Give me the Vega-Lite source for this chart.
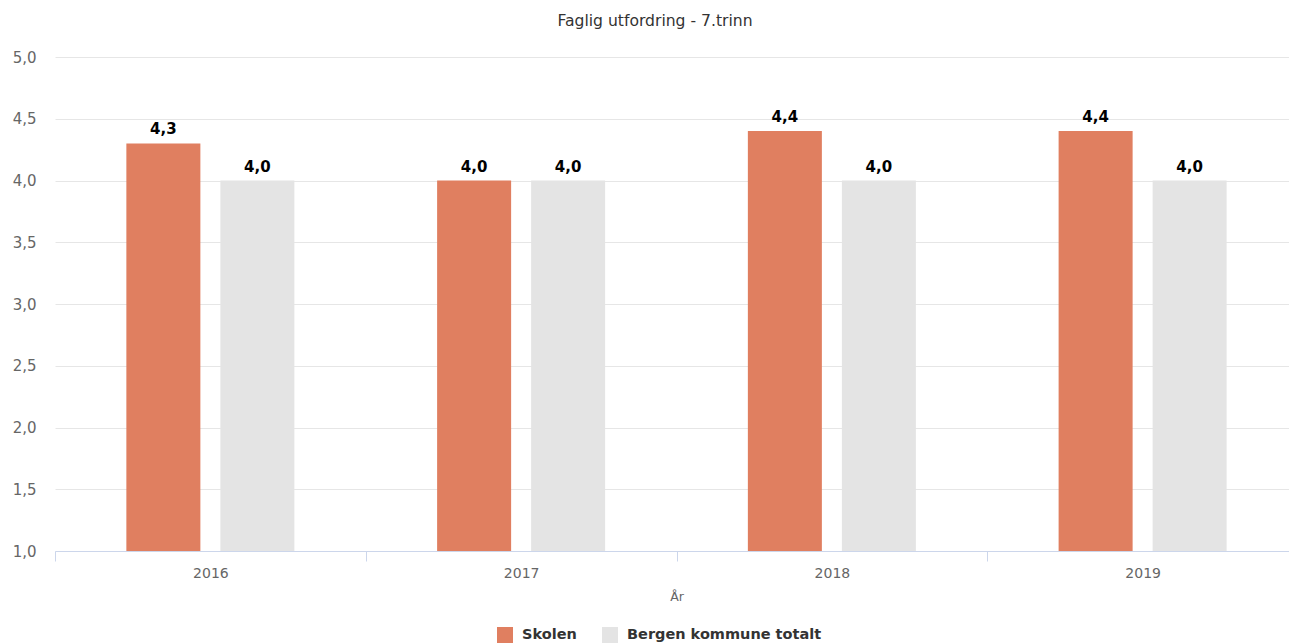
{
  "$schema": "https://vega.github.io/schema/vega-lite/v6.json",
  "autosize": {"type": "none"},
  "width": 1234,
  "height": 494,
  "padding": {"left": 55, "top": 57, "right": 0, "bottom": 93},
  "title": {
    "text": "Faglig utfordring - 7.trinn",
    "fontSize": 15.6,
    "fontWeight": "normal",
    "color": "#333333",
    "font": "DejaVu Sans",
    "anchor": "middle",
    "frame": "group",
    "offset": 20,
    "dx": -17
  },
  "config": {
    "view": {"stroke": null},
    "font": "DejaVu Sans",
    "locale": {"number": {"decimal": ",", "thousands": " ", "grouping": [3], "currency": ["", " kr"]}}
  },
  "data": {
    "values": [
      {"year": "2016", "serie": "Skolen", "value": 4.3},
      {"year": "2016", "serie": "Bergen kommune totalt", "value": 4.0},
      {"year": "2017", "serie": "Skolen", "value": 4.0},
      {"year": "2017", "serie": "Bergen kommune totalt", "value": 4.0},
      {"year": "2018", "serie": "Skolen", "value": 4.4},
      {"year": "2018", "serie": "Bergen kommune totalt", "value": 4.0},
      {"year": "2019", "serie": "Skolen", "value": 4.4},
      {"year": "2019", "serie": "Bergen kommune totalt", "value": 4.0}
    ]
  },
  "encoding": {
    "x": {
      "field": "year",
      "type": "nominal",
      "scale": {"range": [0, 1243], "paddingInner": 0, "paddingOuter": 0},
      "axis": {
        "title": "År",
        "labelAngle": 0,
        "domainColor": "#ccd6eb",
        "tickColor": "#ccd6eb",
        "tickSize": 10,
        "tickBand": "extent",
        "labelPadding": 5,
        "labelColor": "#666666",
        "labelFontSize": 14,
        "titleFontSize": 12.5,
        "titleFontWeight": "normal",
        "titleColor": "#666666",
        "titlePadding": 10,
        "grid": false
      }
    },
    "xOffset": {
      "field": "serie",
      "type": "nominal",
      "sort": ["Skolen", "Bergen kommune totalt"],
      "scale": {"paddingInner": 0.2128, "paddingOuter": 0.759}
    },
    "y": {
      "field": "value",
      "type": "quantitative",
      "scale": {"domain": [1, 5], "zero": false, "nice": false},
      "axis": {
        "title": null,
        "values": [1, 1.5, 2, 2.5, 3, 3.5, 4, 4.5, 5],
        "format": ".1f",
        "grid": true,
        "gridColor": "#e6e6e6",
        "domain": false,
        "ticks": false,
        "tickSize": 0,
        "labelPadding": 19,
        "labelColor": "#666666",
        "labelFontSize": 15
      }
    }
  },
  "layer": [
    {
      "mark": {"type": "bar"},
      "encoding": {
        "y2": {"datum": 1},
        "color": {
          "field": "serie",
          "type": "nominal",
          "sort": ["Skolen", "Bergen kommune totalt"],
          "scale": {"domain": ["Skolen", "Bergen kommune totalt"], "range": ["#e07f60", "#e4e4e4"]},
          "legend": {
            "title": null,
            "orient": "none",
            "direction": "horizontal",
            "legendX": 442,
            "legendY": 570,
            "padding": 0,
            "symbolType": "square",
            "symbolSize": 256,
            "symbolStrokeWidth": 0,
            "labelFontSize": 14.5,
            "labelFontWeight": "bold",
            "labelColor": "#333333",
            "labelOffset": 9,
            "labelLimit": 0,
            "columnPadding": 25
          }
        }
      }
    },
    {
      "mark": {"type": "text", "baseline": "bottom", "dy": -6, "fontSize": 15, "fontWeight": "bold", "color": "#000000"},
      "encoding": {
        "text": {"field": "value", "type": "quantitative", "format": ".1f"}
      }
    }
  ]
}
